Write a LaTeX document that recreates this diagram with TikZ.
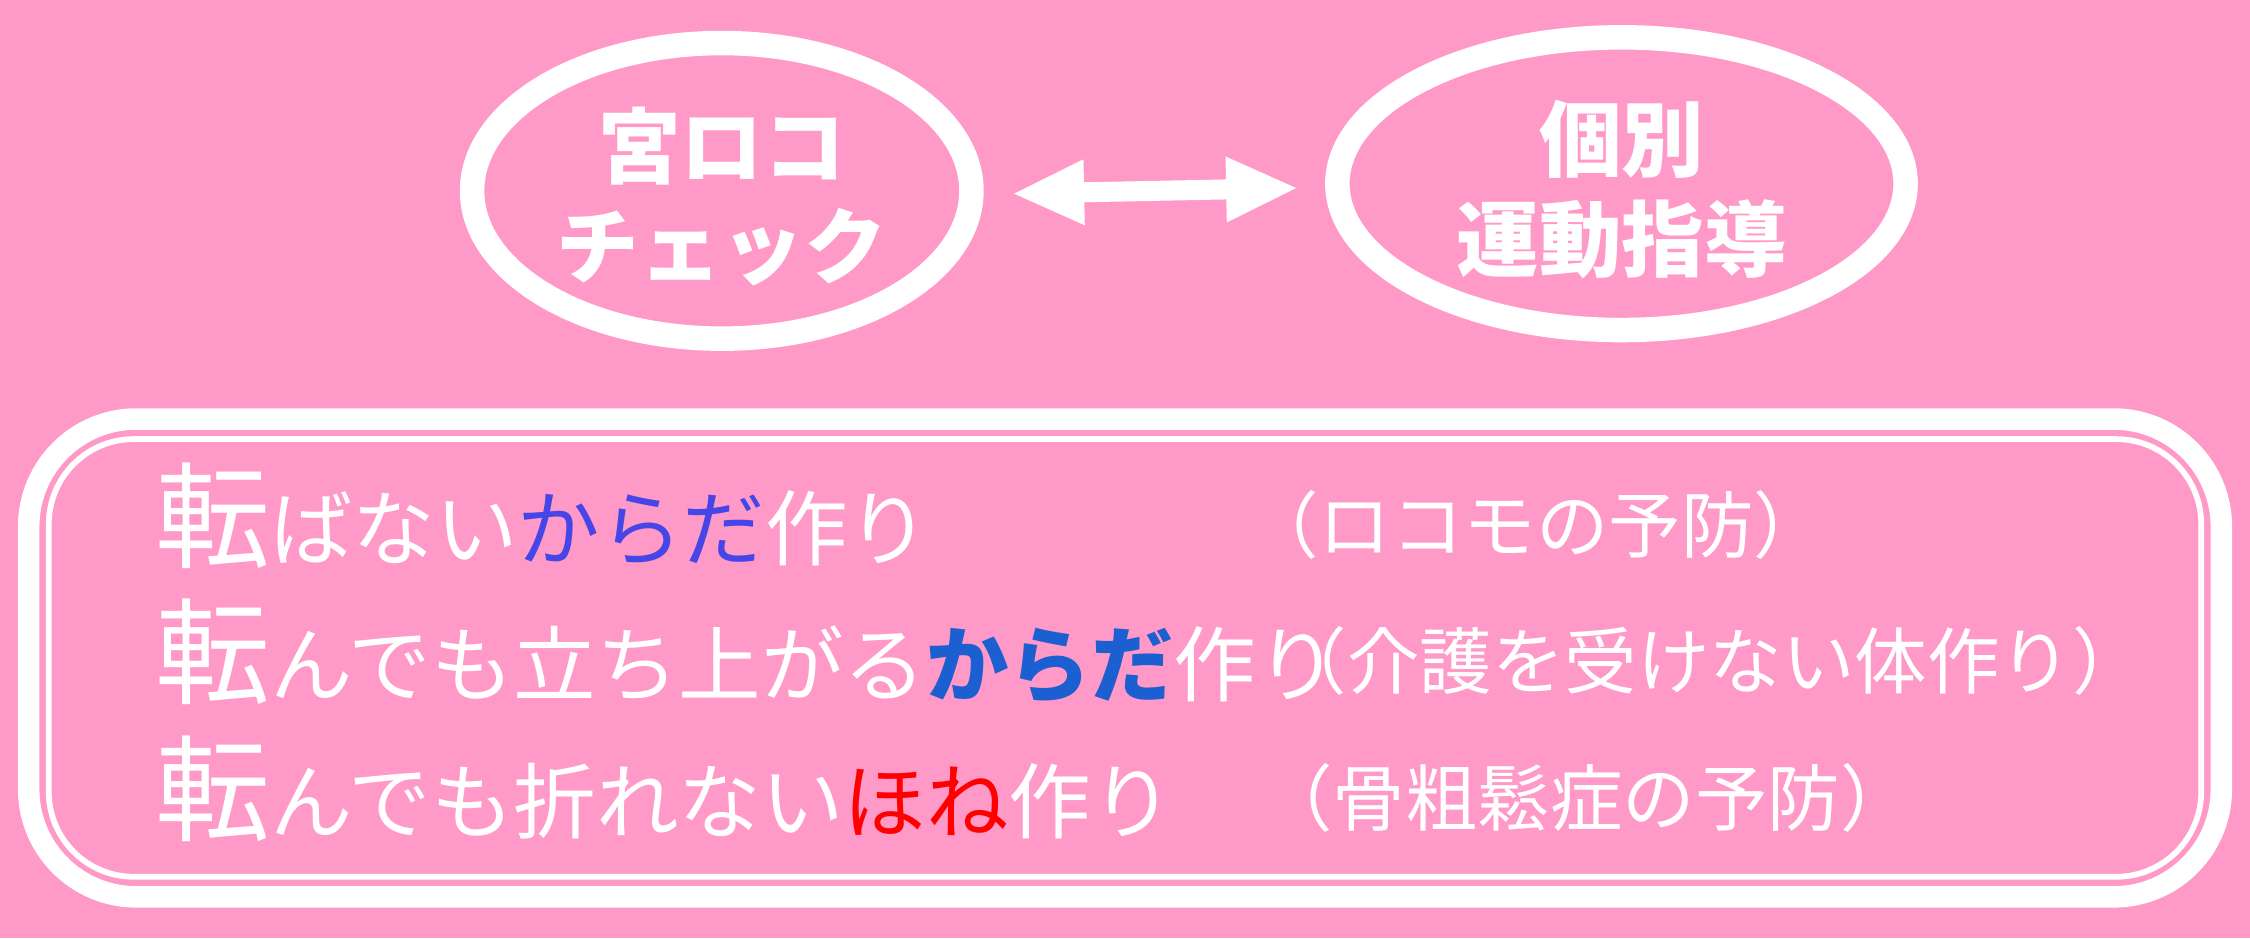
\documentclass[tikz,border=0pt]{standalone}
\usepackage{fontspec}
\newfontfamily\cjk{Noto Sans CJK JP}
\usetikzlibrary{arrows.meta}
\definecolor{bg}{HTML}{FF99C8}
\definecolor{bluea}{HTML}{4646E8}
\definecolor{blueb}{HTML}{1C5FD0}
\tikzset{
 big/.style={font=\cjk\fontsize{33}{40}\selectfont\bfseries,text=white,align=center},
 line/.style={anchor=base west,font=\cjk\fontsize{33}{33}\selectfont,text=white,inner sep=0},
 paren/.style={line,font=\cjk\fontsize{29}{29}\selectfont}}
\begin{document}
\begin{tikzpicture}[x=0.574pt,y=-0.574pt]
\fill[bg] (0,0) rectangle (1568,654);
\useasboundingbox (0,0) rectangle (1568,654);
\draw[white,line width=9.8pt] (503,133) ellipse [x radius=174,y radius=103];
\draw[white,line width=9.8pt] (1130,128) ellipse [x radius=198,y radius=102];
\node[big] (a) at (503,137) {宮ロコ\\チェック};
\node[big] (b) at (1130,132) {個別\\運動指導};
\coordinate (al) at (705,135); \coordinate (ar) at (905,131);
\draw[white,line width=8pt,{Triangle[width=24pt,length=29pt]}-{Triangle[width=24pt,length=29pt]}] (al)--(ar);
\draw[white,line width=8.6pt,rounded corners=43pt] (20,292) rectangle (1548,625);
\draw[white,line width=2.3pt,rounded corners=34pt] (34,306) rectangle (1534,611);
\node[line] (l1) at (108,390) {{\fontsize{46}{46}\selectfont 転}ばない\textcolor{bluea}{からだ}作り};
\node[line] (l2) at (108,485) {{\fontsize{46}{46}\selectfont 転}んでも立ち上がる\textcolor{blueb}{\bfseries からだ}作り};
\node[line] (l3) at (108,580) {{\fontsize{46}{46}\selectfont 転}んでも折れない\textcolor{red}{ほね}作り};
\node[paren] (r1) at (868,385) {（ロコモの予防）};
\node[paren] (r2) at (888,480) {（介護を受けない体作り）};
\node[paren] (r3) at (878,575) {（骨粗鬆症の予防）};
\end{tikzpicture}
\end{document}
